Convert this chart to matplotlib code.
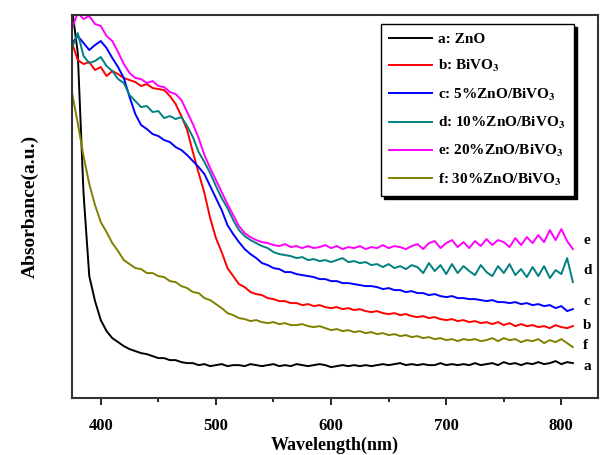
import numpy as np
import matplotlib
matplotlib.use('Agg')
import matplotlib.pyplot as plt

plt.rcParams['font.family'] = ['Liberation Serif', 'DejaVu Serif']
plt.rcParams['mathtext.fontset'] = 'stix'

# wavelength grid (nm), 5 nm steps
wavelength = np.arange(375, 811, 5)

abs_a = [3.90, 3.45, 2.05, 1.22, 0.97, 0.78, 0.67, 0.60, 0.56, 0.52,
         0.49, 0.47, 0.45, 0.44, 0.42, 0.40, 0.40, 0.38, 0.38, 0.36,
         0.35, 0.35, 0.33, 0.34, 0.32, 0.33, 0.34, 0.32, 0.33, 0.33,
         0.32, 0.34, 0.33, 0.32, 0.33, 0.34, 0.32, 0.33, 0.32, 0.34,
         0.33, 0.32, 0.33, 0.34, 0.33, 0.31, 0.32, 0.33, 0.32, 0.33,
         0.32, 0.33, 0.32, 0.33, 0.34, 0.33, 0.34, 0.35, 0.33, 0.34,
         0.33, 0.34, 0.33, 0.33, 0.35, 0.33, 0.34, 0.33, 0.34, 0.33,
         0.35, 0.33, 0.34, 0.35, 0.33, 0.36, 0.34, 0.35, 0.33, 0.35,
         0.34, 0.36, 0.34, 0.35, 0.37, 0.34, 0.36, 0.35]
abs_b = [3.55, 3.38, 3.34, 3.36, 3.28, 3.31, 3.22, 3.27, 3.24, 3.20,
         3.18, 3.16, 3.12, 3.14, 3.10, 3.09, 3.08, 3.02, 2.94, 2.82,
         2.68, 2.46, 2.25, 2.05, 1.80, 1.60, 1.46, 1.30, 1.22, 1.14,
         1.11, 1.06, 1.04, 1.03, 1.00, 0.99, 0.97, 0.97, 0.95, 0.95,
         0.93, 0.94, 0.92, 0.93, 0.91, 0.90, 0.91, 0.89, 0.90, 0.88,
         0.89, 0.87, 0.86, 0.87, 0.85, 0.84, 0.85, 0.83, 0.84, 0.82,
         0.81, 0.82, 0.80, 0.81, 0.79, 0.78, 0.79, 0.77, 0.78, 0.76,
         0.77, 0.75, 0.76, 0.74, 0.76, 0.73, 0.75, 0.72, 0.74, 0.72,
         0.73, 0.71, 0.72, 0.70, 0.73, 0.71, 0.70, 0.72]
abs_c = [3.55, 3.62, 3.55, 3.48, 3.53, 3.57, 3.50, 3.40, 3.31, 3.20,
         3.01, 2.84, 2.73, 2.69, 2.64, 2.62, 2.58, 2.56, 2.51, 2.48,
         2.43, 2.37, 2.31, 2.24, 2.12, 2.00, 1.88, 1.73, 1.64, 1.56,
         1.49, 1.44, 1.40, 1.35, 1.33, 1.30, 1.29, 1.26, 1.26, 1.24,
         1.23, 1.22, 1.21, 1.19, 1.19, 1.17, 1.17, 1.15, 1.15, 1.14,
         1.13, 1.12, 1.12, 1.11, 1.09, 1.10, 1.08, 1.08, 1.06, 1.07,
         1.05, 1.05, 1.03, 1.04, 1.02, 1.01, 1.02, 1.00, 1.00, 0.99,
         0.99, 0.98, 0.97, 0.98, 0.96, 0.96, 0.95, 0.96, 0.94, 0.95,
         0.93, 0.94, 0.92, 0.93, 0.90, 0.92, 0.87, 0.89]
abs_d = [3.50, 3.65, 3.42, 3.35, 3.37, 3.41, 3.32, 3.27, 3.19, 3.15,
         3.03, 2.97, 2.91, 2.92, 2.86, 2.87, 2.80, 2.82, 2.79, 2.81,
         2.72, 2.61, 2.46, 2.36, 2.25, 2.12, 2.00, 1.90, 1.78, 1.68,
         1.62, 1.58, 1.55, 1.52, 1.50, 1.46, 1.44, 1.43, 1.42, 1.40,
         1.41, 1.38, 1.39, 1.37, 1.38, 1.36, 1.38, 1.40, 1.36, 1.37,
         1.35, 1.36, 1.33, 1.34, 1.31, 1.34, 1.30, 1.32, 1.29, 1.33,
         1.31, 1.25, 1.35, 1.27, 1.33, 1.24, 1.34, 1.25, 1.32, 1.27,
         1.23, 1.33, 1.26, 1.22, 1.32, 1.25, 1.34, 1.23, 1.29, 1.21,
         1.31, 1.22, 1.32, 1.20, 1.28, 1.24, 1.40, 1.16]
abs_e = [3.70, 3.85, 3.79, 3.82, 3.74, 3.72, 3.62, 3.57, 3.46, 3.34,
         3.25, 3.20, 3.19, 3.15, 3.17, 3.12, 3.11, 3.06, 3.04, 2.98,
         2.86, 2.74, 2.60, 2.43, 2.30, 2.18, 2.06, 1.94, 1.83, 1.72,
         1.65, 1.61, 1.58, 1.56, 1.55, 1.53, 1.52, 1.54, 1.51, 1.52,
         1.50, 1.52, 1.50, 1.51, 1.53, 1.50, 1.52, 1.49, 1.51, 1.50,
         1.52, 1.49, 1.51, 1.50, 1.53, 1.50, 1.52, 1.51, 1.49, 1.52,
         1.54, 1.49, 1.55, 1.57, 1.50, 1.55, 1.58, 1.51, 1.56, 1.50,
         1.57, 1.52, 1.59, 1.53, 1.58, 1.56, 1.51, 1.60, 1.53, 1.61,
         1.55, 1.63, 1.56, 1.68, 1.58, 1.69, 1.57, 1.49]
abs_f = [3.05, 2.75, 2.42, 2.14, 1.93, 1.76, 1.66, 1.55, 1.47, 1.38,
         1.34, 1.30, 1.29, 1.25, 1.25, 1.22, 1.21, 1.17, 1.16, 1.12,
         1.10, 1.06, 1.05, 1.00, 0.98, 0.94, 0.90, 0.85, 0.83, 0.80,
         0.79, 0.77, 0.78, 0.76, 0.75, 0.76, 0.74, 0.75, 0.73, 0.73,
         0.74, 0.72, 0.71, 0.72, 0.70, 0.68, 0.69, 0.67, 0.68, 0.66,
         0.67, 0.65, 0.66, 0.64, 0.65, 0.63, 0.64, 0.62, 0.63, 0.61,
         0.62, 0.60, 0.61, 0.59, 0.60, 0.58, 0.59, 0.57, 0.59, 0.58,
         0.59, 0.57, 0.58, 0.60, 0.57, 0.60, 0.58, 0.59, 0.56, 0.58,
         0.57, 0.59, 0.55, 0.58, 0.56, 0.59, 0.55, 0.51]

series = [abs_a, abs_b, abs_c, abs_d, abs_e, abs_f]
labels = ['a: ZnO', r'b: BiVO$_{\mathbf{3}}$', r'c: 5%ZnO/BiVO$_{\mathbf{3}}$',
          r'd: 10%ZnO/BiVO$_{\mathbf{3}}$', r'e: 20%ZnO/BiVO$_{\mathbf{3}}$',
          r'f: 30%ZnO/BiVO$_{\mathbf{3}}$']
colors = ['#000000', '#ff0000', '#0000ff', '#008080', '#ff00ff', '#808000']
end_tags = ['a', 'b', 'c', 'd', 'e', 'f']
tag_y = [0.32, 0.73, 0.97, 1.28, 1.58, 0.53]

fig = plt.figure(figsize=(6, 4.55), dpi=100)
ax = fig.add_axes([0.12, 0.125, 0.877, 0.842])

for vals, lab, col in zip(series, labels, colors):
    ax.plot(wavelength, vals, color=col, lw=1.4, label=lab)

for t, ty in zip(end_tags, tag_y):
    ax.text(819, ty, t, fontsize=11, fontweight='bold', va='center', ha='left')

ax.set_xlim(375, 832)
ax.set_ylim(0, 3.83)
ax.set_xticks([400, 500, 600, 700, 800])
ax.set_xticks([450, 550, 650, 750], minor=True)
ax.set_yticks([])
ax.tick_params(axis='x', which='major', direction='out', length=5, width=1.2, pad=9)
ax.tick_params(axis='x', which='minor', direction='out', length=3, width=1.2)
for lbl in ax.get_xticklabels():
    lbl.set_fontweight('bold')
    lbl.set_fontsize(12)
for sp in ax.spines.values():
    sp.set_linewidth(1.5)
    sp.set_color('#333333')

ax.set_xlabel('Wavelength(nm)', fontsize=13, fontweight='bold', labelpad=2)
ax.set_ylabel('Absorbance(a.u.)', fontsize=14, fontweight='bold', labelpad=24)

leg = ax.legend(loc='upper left', bbox_to_anchor=(381 / 600, 1 - 24 / 455),
                bbox_transform=fig.transFigure, borderaxespad=0, fancybox=False,
                shadow={'color': 'black', 'alpha': 1.0},
                prop={'weight': 'bold', 'size': 11}, handlelength=2.8,
                labelspacing=0.8, borderpad=0.55, handletextpad=0.4,
                framealpha=1)
leg.get_frame().set_edgecolor('black')
leg.get_frame().set_linewidth(1.0)

fig.savefig('out.png', dpi=100)
